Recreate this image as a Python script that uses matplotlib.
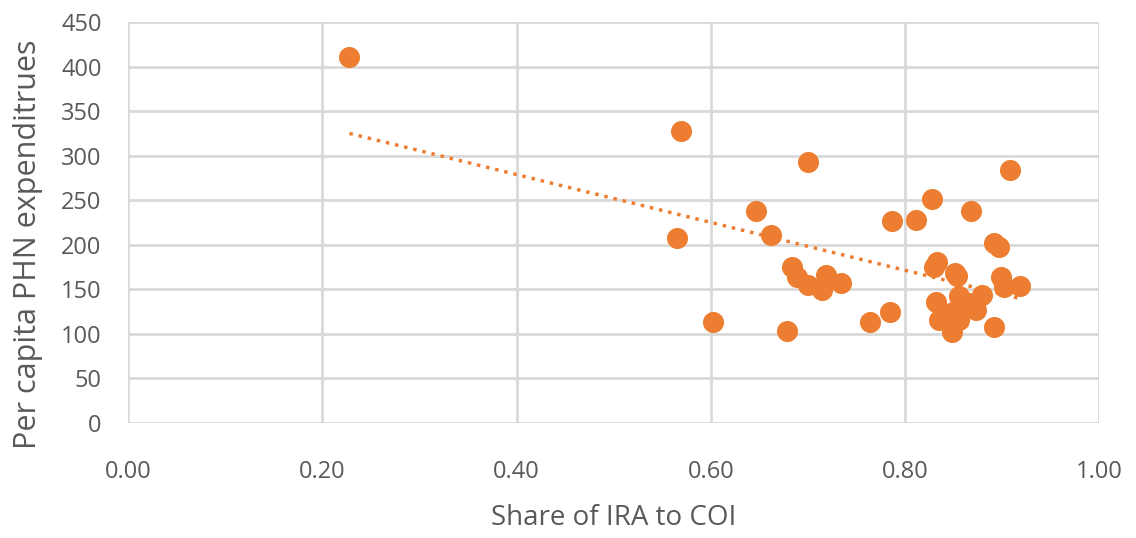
"""Scatter of PHN per capita expenditures vs share of IRA to COI."""

import numpy as np
import matplotlib.pyplot as plt

# Values
share_ira = [0.228, 0.569, 0.565, 0.602, 0.647, 0.662, 0.700, 0.678, 0.684,
             0.689, 0.700, 0.714, 0.719, 0.734, 0.764, 0.784, 0.787, 0.811,
             0.828, 0.830, 0.833, 0.851, 0.853, 0.868, 0.892, 0.897, 0.899,
             0.902, 0.908, 0.918, 0.832, 0.856, 0.879, 0.873, 0.866, 0.835,
             0.846, 0.848, 0.856, 0.849, 0.892]
phn_per_capita = [411, 328, 207, 113, 238, 211, 293, 103, 175,
                  164, 155, 149, 166, 157, 113, 124, 227, 228,
                  251, 175, 181, 168, 165, 238, 202, 197, 164,
                  152, 284, 154, 136, 142, 144, 127, 135, 116,
                  112, 102, 116, 124, 108]

x_ticks = [0.0, 0.2, 0.4, 0.6, 0.8, 1.0]
y_ticks = list(range(0, 451, 50))

ORANGE = "#ED7D31"
GRID = "#d9d9d9"
TEXT = "#595959"

plt.rcParams["font.family"] = ["Open Sans", "DejaVu Sans"]

fig = plt.figure(figsize=(11.36, 5.38), dpi=100)
ax = fig.add_axes([0.1127, 0.214, 0.855, 0.745])

ax.scatter(share_ira, phn_per_capita, s=230, color=ORANGE, zorder=3,
           linewidths=0)

# Linear trendline
coef = np.polyfit(share_ira, phn_per_capita, 1)
xs = np.array([min(share_ira), max(share_ira)])
ax.plot(xs, np.polyval(coef, xs), color=ORANGE, linestyle=(0, (1, 1.7)),
        linewidth=2.5, zorder=2)

ax.set_xlim(0, 1.0)
ax.set_ylim(0, 450)
ax.set_xticks(x_ticks)
ax.set_yticks(y_ticks)
ax.set_xticklabels([f"{t:.2f}" for t in x_ticks])
ax.grid(True, color=GRID, linewidth=2)
ax.set_axisbelow(True)
for s in ax.spines.values():
    s.set_visible(False)
ax.tick_params(length=0, labelsize=17, colors=TEXT)
ax.tick_params(axis="y", pad=19)
ax.tick_params(axis="x", pad=27)

ax.set_xlabel("Share of IRA to COI", fontsize=20, color=TEXT, labelpad=14)
ax.set_ylabel("Per capita PHN expenditrues", fontsize=22, color=TEXT,
              fontweight="medium")
ax.yaxis.set_label_coords(-0.088, 0.445)

fig.savefig("out.png", dpi=100)
